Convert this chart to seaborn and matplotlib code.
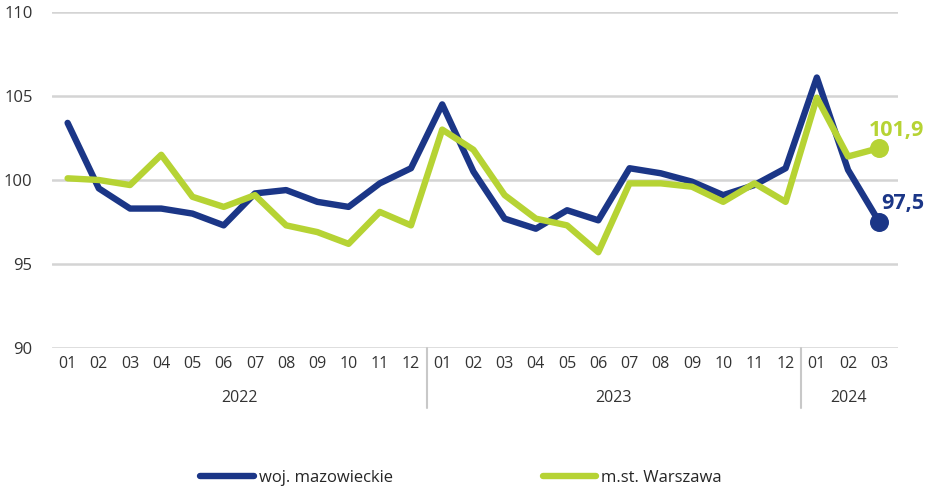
import numpy as np
import pandas as pd
import matplotlib
matplotlib.use("Agg")
import matplotlib.pyplot as plt
import seaborn as sns

months = ["01","02","03","04","05","06","07","08","09","10","11","12",
          "01","02","03","04","05","06","07","08","09","10","11","12",
          "01","02","03"]
years = ["2022", "2023", "2024"]
year_counts = [12, 12, 3]
mazowieckie = [103.4, 99.5, 98.3, 98.3, 98.0, 97.3, 99.2, 99.4, 98.7, 98.4, 99.8, 100.7,
               104.5, 100.5, 97.7, 97.1, 98.2, 97.6, 100.7, 100.4, 99.9, 99.1, 99.7, 100.7,
               106.1, 100.6, 97.5]
warszawa = [100.1, 100.0, 99.7, 101.5, 99.0, 98.4, 99.1, 97.3, 96.9, 96.2, 98.1, 97.3,
            103.0, 101.8, 99.1, 97.7, 97.3, 95.7, 99.8, 99.8, 99.6, 98.7, 99.8, 98.7,
            104.9, 101.4, 101.9]
series_names = ["woj. mazowieckie", "m.st. Warszawa"]
yticks = [90, 95, 100, 105, 110]

blue = "#1b3687"
green = "#b6d334"

sns.set_theme(style="white")
plt.rcParams['font.family'] = ['Open Sans', 'DejaVu Sans']

n = len(months)
df = pd.DataFrame({
    "x": list(range(n)) * 2,
    "value": mazowieckie + warszawa,
    "series": [series_names[0]] * n + [series_names[1]] * n,
})

fig = plt.figure(figsize=(9.41, 4.92), dpi=100)
ax = fig.add_axes([52/941, 1 - 348/492, (898-52)/941, (348-12)/492])

for y in yticks:
    ax.axhline(y, color="#d4d4d4", lw=1.8, zorder=0)

sns.lineplot(data=df, x="x", y="value", hue="series", palette=[blue, green],
             hue_order=series_names, linewidth=4.6, ax=ax, legend=False)
for line in ax.lines[len(yticks):]:
    line.set_solid_capstyle("round")
    line.set_solid_joinstyle("round")

ax.scatter([n-1], [mazowieckie[-1]], s=160, color=blue, zorder=5)
ax.scatter([n-1], [warszawa[-1]], s=160, color=green, zorder=5)
ax.text(n-1 + 0.05, mazowieckie[-1] + 0.5, f"{mazowieckie[-1]:.1f}".replace(".", ","),
        color=blue, fontsize=15.5, fontweight="bold", ha="left", va="bottom")
ax.text(n-1 - 0.35, warszawa[-1] + 0.4, f"{warszawa[-1]:.1f}".replace(".", ","),
        color=green, fontsize=15.5, fontweight="bold", ha="left", va="bottom")

ax.set_xlim(-0.5, n - 0.4)
ax.set_ylim(90, 110)
ax.set_yticks(yticks)
ax.set_yticklabels([str(t) for t in yticks], fontsize=12, color="#333333")
ax.tick_params(axis="y", length=0, pad=14)
ax.set_xticks(range(n))
ax.set_xticklabels(months, fontsize=11.5, color="#333333")
ax.tick_params(axis="x", length=0, pad=6)
for s in ax.spines.values():
    s.set_visible(False)
ax.set_xlabel("")
ax.set_ylabel("")

# year labels and separators
start = 0
trans = ax.get_xaxis_transform()
for i, (yr, c) in enumerate(zip(years, year_counts)):
    center = start + (c - 1) / 2
    ax.text(center, -0.15, yr, transform=trans, ha="center", va="center",
            fontsize=11.5, color="#333333")
    if i > 0:
        ax.plot([start - 0.5, start - 0.5], [0, -0.18], transform=trans,
                color="#c8c8c8", lw=1.5, clip_on=False)
    start += c

# legend
from matplotlib.lines import Line2D
handles = [Line2D([0], [0], color=blue, lw=4.6, solid_capstyle="round"),
           Line2D([0], [0], color=green, lw=4.6, solid_capstyle="round")]
fig.legend(handles, series_names, loc="center", bbox_to_anchor=(0.49, 1 - 478/492),
           ncol=2, frameon=False, fontsize=12, handlelength=3.2, handletextpad=0.3,
           columnspacing=9)

fig.savefig("out.png", dpi=100)
